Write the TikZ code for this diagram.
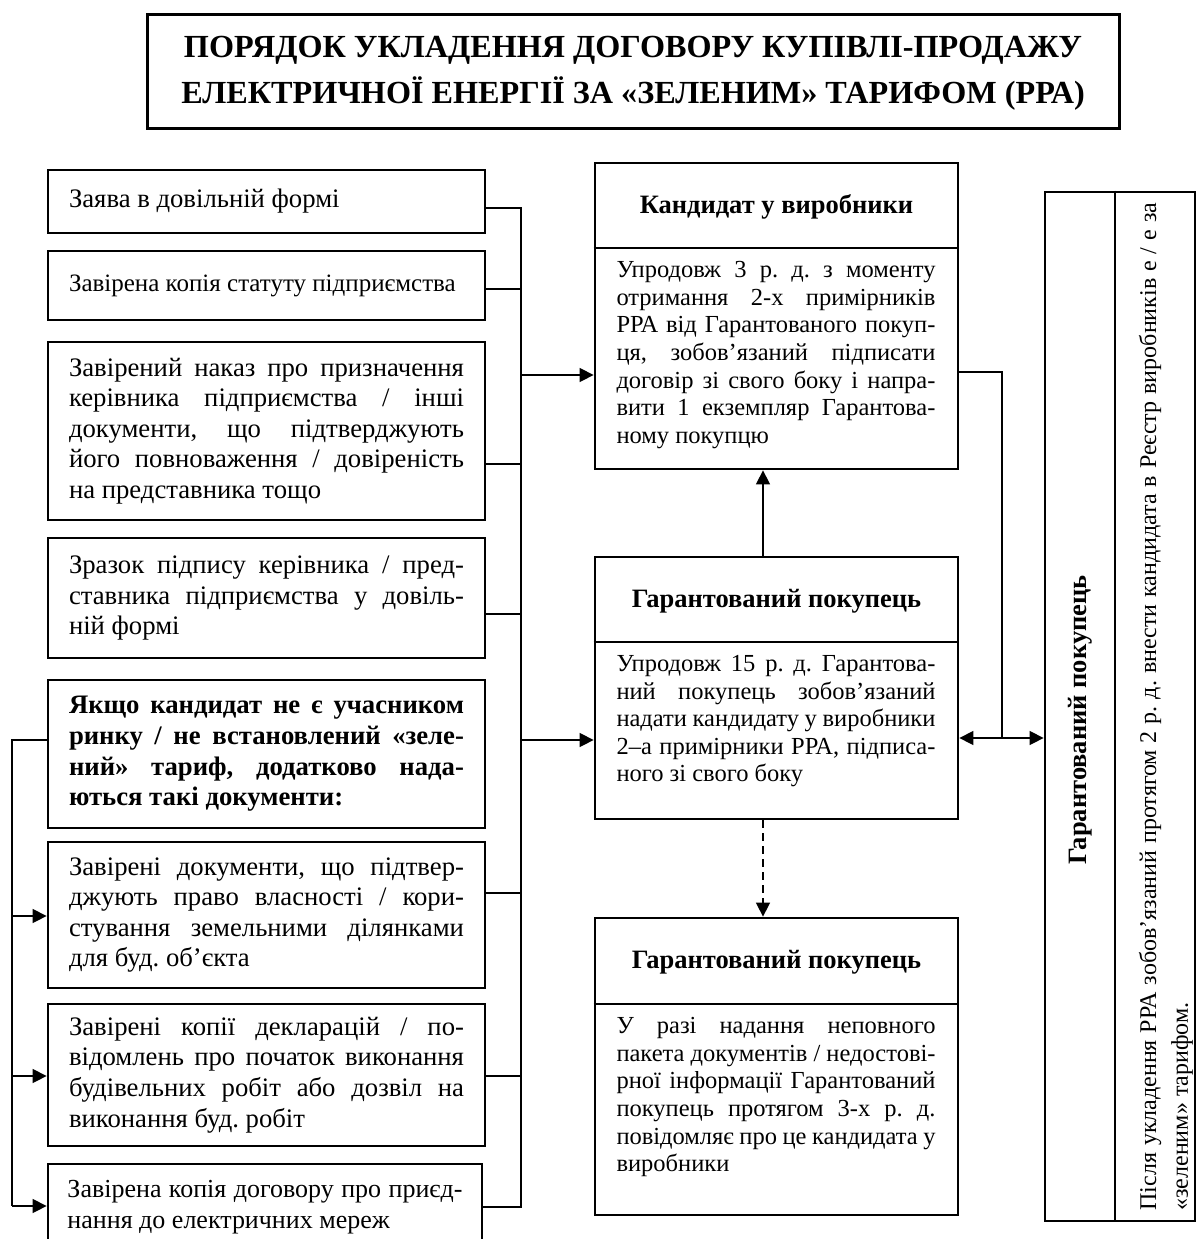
\documentclass[tikz,border=0pt]{standalone}
\usepackage{fontspec}
\setmainfont{Liberation Serif}
\usetikzlibrary{arrows.meta}
\newcommand\RS{\spaceskip=0pt\xspaceskip=0pt\frenchspacing}
\newcommand\JL[1]{\makebox[197.5pt][s]{#1}}
\newcommand\JM[1]{\makebox[159.5pt][s]{#1}}
\begin{document}
\begin{tikzpicture}[x=0.5pt,y=-0.5pt,
  conn/.style={line width=0.75pt},
  arr/.style={conn,-{Triangle[length=7pt,width=7pt]}},
  darr/.style={conn,{Triangle[length=7pt,width=7pt]}-{Triangle[length=7pt,width=7pt]}},
  boxline/.style={line width=1.4pt},
  lbox/.style={draw,line width=1.4pt,inner sep=0pt,minimum width=218.5pt,text width=197.5pt,align=left,font=\fontsize{13.35}{15.3}\selectfont},
  mframe/.style={draw,line width=1.4pt,inner sep=0pt,minimum width=181.5pt},
  hdr/.style={inner sep=0pt,font=\fontsize{13.25}{15}\selectfont\bfseries},
  mbody/.style={inner sep=0pt,text width=159.5pt,align=left,font=\fontsize{12.25}{13.8}\selectfont},
  rtext/.style={inner sep=0pt,font=\fontsize{12}{14}\selectfont},
]
\useasboundingbox (0,0) rectangle (1196,1239);

% title
\node[draw,line width=1.5pt,minimum width=486pt,minimum height=57pt] (title) at (633,71) {};
\node[align=center,inner sep=0pt,font=\fontsize{16.1}{23}\selectfont\bfseries] (title-t) at (633,73)
  {ПОРЯДОК УКЛАДЕННЯ ДОГОВОРУ КУПІВЛІ-ПРОДАЖУ\\ЕЛЕКТРИЧНОЇ ЕНЕРГІЇ ЗА «ЗЕЛЕНИМ» ТАРИФОМ (РРА)};

% left column
\node[lbox,minimum height=31.5pt] (b1) at (266.5,201.5) {\RS Заява в довільній формі};
\node[lbox,minimum height=34.5pt,font=\fontsize{12.5}{15.3}\selectfont] (b2) at (266.5,285.5) {\RS\makebox[197.5pt][l]{Завірена копія статуту підприємства}};
\node[lbox,minimum height=89pt] (b3) at (266.5,431) {\RS\JL{Завірений наказ про призначення}\\\JL{керівника підприємства / інші}\\\JL{документи, що підтверджують}\\\JL{його повноваження / довіреність}\\на представника тощо};
\node[lbox,minimum height=60pt] (b4) at (266.5,598) {\RS\JL{Зразок підпису керівника / пред-}\\\JL{ставника підприємства у довіль-}\\ній формі};
\node[lbox,minimum height=74pt,font=\fontsize{13.35}{15.3}\selectfont\bfseries] (b5) at (266.5,754) {\RS\JL{Якщо кандидат не є учасником}\\\JL{ринку / не встановлений «зеле-}\\\JL{ний» тариф, додатково нада-}\\ються такі документи:};
\node[lbox,minimum height=73pt] (b6) at (266.5,915) {\RS\JL{Завірені документи, що підтвер-}\\\JL{джують право власності / кори-}\\\JL{стування земельними ділянками}\\для буд. об’єкта};
\node[lbox,minimum height=71pt] (b7) at (266.5,1075) {\RS\JL{Завірені копії декларацій / по-}\\\JL{відомлень про початок виконання}\\\JL{будівельних робіт або дозвіл на}\\виконання буд. робіт};
\node[lbox,minimum height=43pt,minimum width=217pt,font=\fontsize{13}{15.3}\selectfont] (b8) at (265,1207) {\RS\JL{Завірена копія договору про приєд-}\\нання до електричних мереж};

% middle column
\node[mframe,minimum height=153pt] (cand) at (776.5,316) {};
\node[mframe,minimum height=131pt] (gp1) at (776.5,688) {};
\node[mframe,minimum height=148.5pt] (gp2) at (776.5,1066.5) {};
\coordinate (d1) at (0,248);
\coordinate (d2) at (0,642);
\coordinate (d3) at (0,1004);
\draw[boxline] (cand.west |- d1) -- (cand.east |- d1);
\draw[boxline] (gp1.west |- d2) -- (gp1.east |- d2);
\draw[boxline] (gp2.west |- d3) -- (gp2.east |- d3);
\node[hdr] (cand-h) at (776.5,207) {Кандидат у виробники};
\node[hdr] (gp1-h) at (776.5,601) {Гарантований покупець};
\node[hdr] (gp2-h) at (776.5,962) {Гарантований покупець};
\node[mbody,anchor=north] (cand-b) at (776,261) {\RS\JM{Упродовж 3 р. д. з моменту}\\\JM{отримання 2-х примірників}\\\JM{РРА від Гарантованого покуп-}\\\JM{ця, зобов'язаний підписати}\\\JM{договір зі свого боку і напра-}\\\JM{вити 1 екземпляр Гарантова-}\\ному покупцю};
\node[mbody,anchor=north] (gp1-b) at (776,655) {\RS\JM{Упродовж 15 р. д. Гарантова-}\\\JM{ний покупець зобов'язаний}\\\JM{надати кандидату у виробники}\\\JM{2–а примірники РРА, підписа-}\\ного зі свого боку};
\node[mbody,anchor=north] (gp2-b) at (776,1017) {\RS\JM{У разі надання неповного}\\\JM{пакета документів / недостові-}\\\JM{рної інформації Гарантований}\\\JM{покупець протягом 3-х р. д.}\\\JM{повідомляє про це кандидата у}\\виробники};

% right box
\node[draw,line width=1.4pt,inner sep=0pt,minimum width=75pt,minimum height=514.5pt] (rb) at (1120,706.5) {};
\coordinate (rd) at (1115,0);
\draw[boxline] (rb.north -| rd) -- (rb.south -| rd);
\node[hdr,rotate=90] (rb-h) at (1080,720) {Гарантований покупець};
\node[rtext,rotate=90,anchor=west] (rb-l1) at (1150,1211) {\RS\makebox[504pt][s]{Після укладення РРА зобов'язаний протягом 2 р. д. внести кандидата в Реєстр виробників е / е за}};
\node[rtext,rotate=90,anchor=west] (rb-l2) at (1182,1211) {«зеленим» тарифом.};

% bus
\coordinate (j1) at (521,208);
\coordinate (j2) at (521,289);
\coordinate (j3) at (521,464);
\coordinate (j4) at (521,614);
\coordinate (j6) at (521,893);
\coordinate (j7) at (521,1076);
\coordinate (j8) at (521,1207);
\coordinate (jc) at (521,375);
\coordinate (jg) at (521,740);
\draw[conn] (b1.east |- j1) -- (j1) -- (j8) -- (b8.east |- j8);
\draw[conn] (b2.east |- j2) -- (j2);
\draw[conn] (b3.east |- j3) -- (j3);
\draw[conn] (b4.east |- j4) -- (j4);
\draw[conn] (b6.east |- j6) -- (j6);
\draw[conn] (b7.east |- j7) -- (j7);
\draw[arr] (jc) -- (cand.west |- jc);
\draw[arr] (jg) -- (gp1.west |- jg);

% feedback on the left
\coordinate (f5) at (12,740);
\coordinate (f6) at (12,916);
\coordinate (f7) at (12,1076);
\coordinate (f8) at (12,1206);
\draw[conn] (b5.west |- f5) -- (f5) -- (f8);
\draw[arr] (f6) -- (b6.west |- f6);
\draw[arr] (f7) -- (b7.west |- f7);
\draw[arr] (f8) -- (b8.west |- f8);

% middle arrows
\coordinate (ax) at (763,0);
\draw[arr] (gp1.north -| ax) -- (cand.south -| ax);
\draw[arr,dash pattern=on 4pt off 2.5pt] (gp1.south -| ax) -- (gp2.north -| ax);

% right connections
\coordinate (r1) at (1002,372);
\coordinate (r2) at (1002,738);
\draw[conn] (cand.east |- r1) -- (r1) -- (r2);
\draw[darr] (gp1.east |- r2) -- (rb.west |- r2);
\end{tikzpicture}
\end{document}
